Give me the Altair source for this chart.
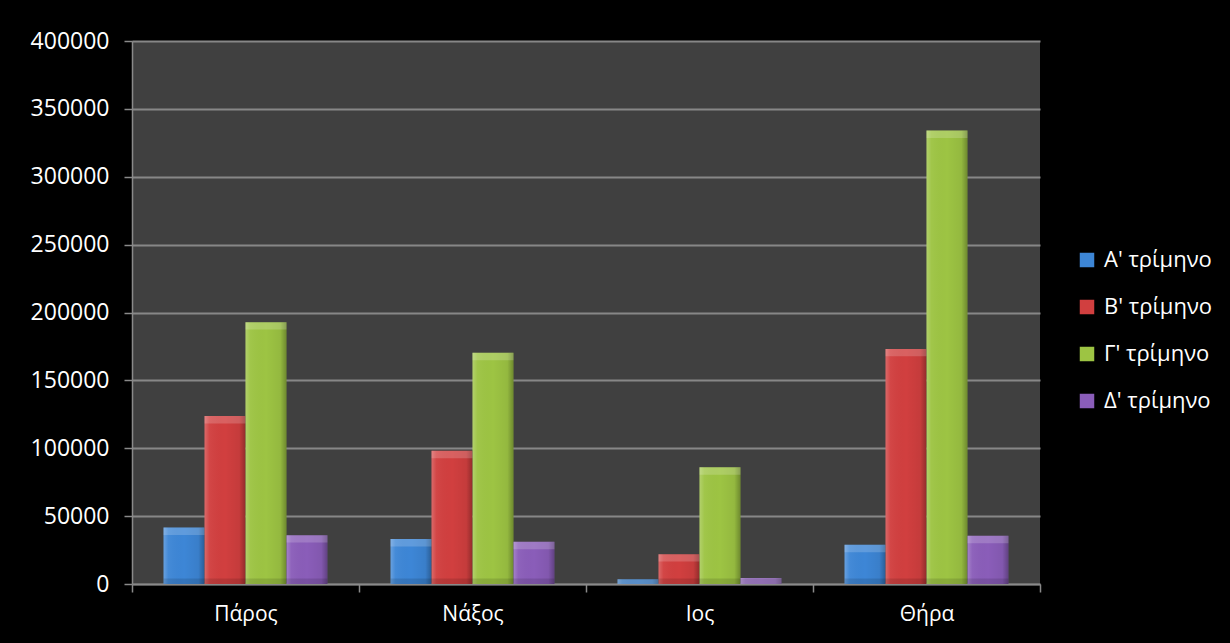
import altair as alt
import pandas as pd

# Quarterly arrivals per island
islands = ["Πάρος", "Νάξος", "Ιος", "Θήρα"]
quarters = ["Α' τρίμηνο", "Β' τρίμηνο", "Γ' τρίμηνο", "Δ' τρίμηνο"]
q1 = [41600, 33100, 3500, 28900]
q2 = [123800, 98200, 22000, 173200]
q3 = [192900, 170300, 86000, 334000]
q4 = [36000, 31100, 4500, 35500]
y_ticks = [0, 50000, 100000, 150000, 200000, 250000, 300000, 350000, 400000]

colors = ["#3d86d6", "#d13f3f", "#9dc443", "#8a5db9"]

rows = []
for i, isl in enumerate(islands):
    for q, series in zip(quarters, [q1, q2, q3, q4]):
        rows.append({"island": isl, "quarter": q, "value": series[i]})
df = pd.DataFrame(rows)

FONT = "Open Sans"

x_enc = alt.X(
    "island:N",
    sort=islands,
    scale=alt.Scale(paddingInner=0, paddingOuter=0),
    axis=alt.Axis(
        title=None,
        tickBand="extent",
        labelAngle=0,
        labelColor="white",
        labelFont=FONT,
        labelFontSize=21,
        labelPadding=11,
        tickColor="#8a8a8a",
        tickSize=8,
        tickWidth=1.5,
        domainColor="#8a8a8a",
        domainWidth=1.5,
    ),
)
xoff_enc = alt.XOffset(
    "quarter:N", sort=quarters, scale=alt.Scale(paddingInner=0, paddingOuter=0.77)
)
y_scale = alt.Scale(domain=[0, 400000], nice=False)

base = alt.Chart(df)

bars = base.mark_bar().encode(
    x=x_enc,
    xOffset=xoff_enc,
    y=alt.Y(
        "value:Q",
        scale=y_scale,
        axis=alt.Axis(
            title=None,
            values=y_ticks,
            format="d",
            labelColor="white",
            labelFont=FONT,
            labelFontSize=23,
            labelPadding=15,
            grid=True,
            gridColor="#878787",
            gridWidth=2,
            tickColor="#8a8a8a",
            tickSize=8,
            tickWidth=1.5,
            domainColor="#8a8a8a",
            domainWidth=1.5,
        ),
    ),
    color=alt.Color(
        "quarter:N",
        sort=quarters,
        scale=alt.Scale(domain=quarters, range=colors),
        legend=alt.Legend(
            title=None,
            orient="none",
            legendX=944,
            legendY=208,
            symbolType="square",
            symbolSize=210,
            symbolStrokeWidth=0,
            labelColor="white",
            labelFont=FONT,
            labelFontSize=22,
            labelOffset=6,
            rowPadding=25,
        ),
    ),
)

# side shading: light left edge, darker right edge
side = base.mark_bar(
    color=alt.LinearGradient(
        gradient="linear",
        x1=0, x2=1, y1=0, y2=0,
        stops=[
            alt.GradientStop(color="rgba(255,255,255,0.22)", offset=0),
            alt.GradientStop(color="rgba(255,255,255,0.04)", offset=0.12),
            alt.GradientStop(color="rgba(0,0,0,0)", offset=0.5),
            alt.GradientStop(color="rgba(0,0,0,0.06)", offset=0.85),
            alt.GradientStop(color="rgba(0,0,0,0.3)", offset=1),
        ],
    )
).encode(
    x=alt.X("island:N", sort=islands),
    xOffset=alt.XOffset("quarter:N", sort=quarters),
    y=alt.Y("value:Q", scale=y_scale),
)

# bevelled top edge
top = base.transform_calculate(
    cap="max(datum.value - 5500, 0)"
).mark_bar(color="white", opacity=0.18).encode(
    x=alt.X("island:N", sort=islands),
    xOffset=alt.XOffset("quarter:N", sort=quarters),
    y=alt.Y("value:Q", scale=y_scale),
    y2="cap:Q",
)

# darker bottom edge
bottom = base.transform_calculate(
    foot="min(datum.value, 4000)"
).mark_bar(color="black", opacity=0.12).encode(
    x=alt.X("island:N", sort=islands),
    xOffset=alt.XOffset("quarter:N", sort=quarters),
    y=alt.Y("foot:Q", scale=y_scale),
    y2=alt.datum(0),
)

chart = (
    alt.layer(bars, side, bottom, top)
    .properties(
        width=908,
        height=543,
        background="black",
        padding={"left": 132, "top": 41, "right": 190, "bottom": 59},
        autosize=alt.AutoSizeParams(type="none"),
    )
    .configure_view(fill="#404040", stroke=None)
)

chart.save("out.html", embed_options={"renderer": "svg", "actions": False})
